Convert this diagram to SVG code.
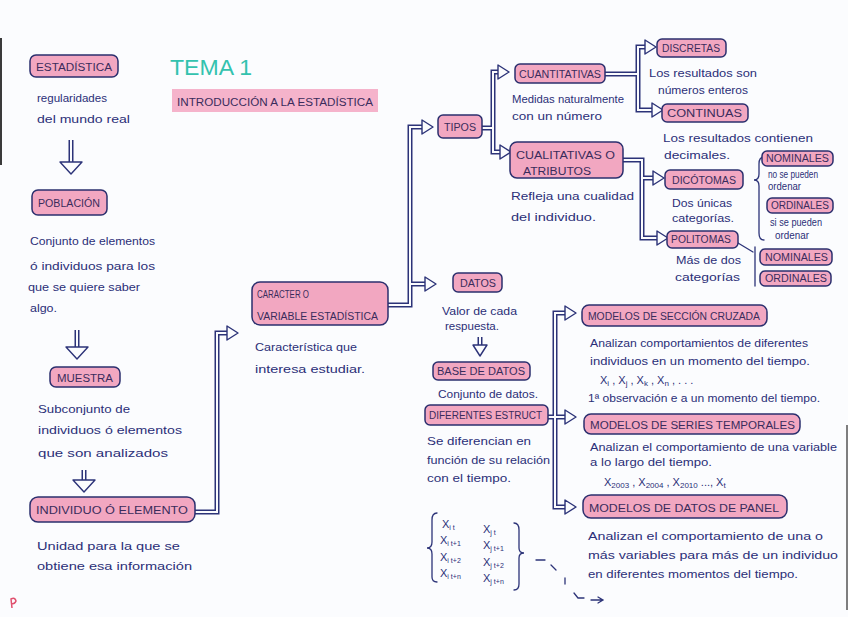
<svg xmlns="http://www.w3.org/2000/svg" width="848" height="617" viewBox="0 0 848 617">
<defs>
<style>
.bg{fill:#fbfcfe}
.nd{fill:#f2a7c1;stroke:#2b2f6e;stroke-width:1.5}
.lb{font-family:"Liberation Sans",Arial,sans-serif;font-size:10px;fill:#3a2c5c}
.hw{font-family:"Liberation Sans",Arial,sans-serif;font-size:11px;fill:#2b2f78}
.co{fill:none;stroke:#2c3378;stroke-width:5;stroke-linejoin:miter}
.ci{fill:none;stroke:#fbfcfe;stroke-width:2}
.ah{fill:#fbfcfe;stroke:#2c3378;stroke-width:1.4;stroke-linejoin:round}
.br{fill:none;stroke:#2c3378;stroke-width:1.3;stroke-linecap:round}
</style>
<path id="hr" d="M-11,-7 L0,0 L-11,7 Z"/>
<path id="hd" d="M-11,0 L11,0 L0,12 Z"/>
</defs>
<rect class="bg" x="0" y="0" width="848" height="617"/>
<line x1="1" y1="38" x2="1" y2="165" stroke="#3a3a3a" stroke-width="2"/>
<line x1="847" y1="425" x2="847" y2="610" stroke="#555" stroke-width="1.5"/>
<path d="M12,608 L11,599 Q15,597 16,601 Q15,604 11,604" fill="none" stroke="#e0506e" stroke-width="1.5"/>

<g id="title">
<text x="170" y="75" font-family="Liberation Sans,Arial,sans-serif" font-size="22" fill="#33c2ae" textLength="82" lengthAdjust="spacingAndGlyphs">TEMA 1</text>
<rect x="172" y="89" width="206" height="23" fill="#f5b3cb"/>
<text x="177" y="106" class="lb" font-size="9" fill="#2a2430" textLength="196" lengthAdjust="spacingAndGlyphs">INTRODUCCIÓN A LA ESTADÍSTICA</text>
</g>

<g id="connectors">
<path class="co" d="M195,512 H217 V333 H228"/><path class="ci" d="M195,512 H217 V333 H228"/>
<use href="#hr" class="ah" x="238" y="333"/>
<path class="co" d="M388,305 H410 V127 H423 M410,284 H426"/><path class="ci" d="M388,305 H410 V127 H423 M410,284 H426"/>
<use href="#hr" class="ah" x="433" y="127"/><use href="#hr" class="ah" x="436" y="284"/>
<path class="co" d="M482,128 H493 V72 H499 M493,128 V152 H501"/><path class="ci" d="M482,128 H493 V72 H499 M493,128 V152 H501"/>
<use href="#hr" class="ah" x="509" y="72"/><use href="#hr" class="ah" x="511" y="152"/>
<path class="co" d="M605,74 H638 V47 H646 M638,74 V110 H653"/><path class="ci" d="M605,74 H638 V47 H646 M638,74 V110 H653"/>
<use href="#hr" class="ah" x="656" y="47"/><use href="#hr" class="ah" x="663" y="110"/>
<path class="co" d="M623,160 H642 V238 H658 M642,178 H654"/><path class="ci" d="M623,160 H642 V238 H658 M642,178 H654"/>
<use href="#hr" class="ah" x="664" y="178"/><use href="#hr" class="ah" x="668" y="238"/>
<path class="co" d="M548,417 H555 V313 H566 M555,417 H566 M555,417 V507 H566"/><path class="ci" d="M548,417 H555 V313 H566 M555,417 H566 M555,417 V507 H566"/>
<use href="#hr" class="ah" x="576" y="313"/><use href="#hr" class="ah" x="576" y="417"/><use href="#hr" class="ah" x="576" y="507"/>
<path class="co" d="M71,140 V163 M77,330 V348 M84,470 V481 M480,337 V346"/><path class="ci" d="M71,140 V163 M77,330 V348 M84,470 V481 M480,337 V346"/>
<use href="#hd" class="ah" x="71" y="162"/><use href="#hd" class="ah" x="77" y="347"/><use href="#hd" class="ah" x="84" y="480"/>
<path class="ah" d="M473,345 L487,345 L480,356 Z"/>
<path class="br" d="M764,157 Q759,157 759,164 V174 Q759,180 754,180 Q759,180 759,186 V233 Q759,240 764,240"/>
<path class="br" d="M738,243 L753,252 M755,247 V286"/>
<path class="br" d="M437,513 Q432,513 432,520 V542 Q432,548 427,548 Q432,548 432,554 V577 Q432,582 437,582"/>
<path class="br" d="M514,523 Q519,523 519,530 V548 Q519,553 524,553 Q519,553 519,558 V584 Q519,590 514,590"/>
<path class="br" d="M536,560 H545 M551,565 L556,570 M565,578 V584 M574,593 L578,598 H584 M591,600 H602 M598,597 L603,600 L598,603"/>
</g>

<g id="estadistica">
<rect class="nd" x="30" y="55" width="88" height="22" rx="6"/>
<text class="lb" x="36" y="71" font-size="11" textLength="76" lengthAdjust="spacingAndGlyphs">ESTADÍSTICA</text>
<text class="hw" x="37" y="102" textLength="70" lengthAdjust="spacingAndGlyphs">regularidades</text>
<text class="hw" x="37" y="123" textLength="93" lengthAdjust="spacingAndGlyphs">del mundo real</text>
</g>
<g id="poblacion">
<rect class="nd" x="32" y="190" width="75" height="25" rx="6"/>
<text class="lb" x="38" y="207" font-size="11" textLength="62" lengthAdjust="spacingAndGlyphs">POBLACIÓN</text>
<text class="hw" x="30" y="245" textLength="125" lengthAdjust="spacingAndGlyphs">Conjunto de elementos</text>
<text class="hw" x="30" y="270" textLength="125" lengthAdjust="spacingAndGlyphs">ó individuos para los</text>
<text class="hw" x="28" y="291" textLength="112" lengthAdjust="spacingAndGlyphs">que se quiere saber</text>
<text class="hw" x="30" y="312" textLength="27" lengthAdjust="spacingAndGlyphs">algo.</text>
</g>
<g id="muestra">
<rect class="nd" x="50" y="367" width="70" height="20" rx="6"/>
<text class="lb" x="57" y="382" textLength="56" lengthAdjust="spacingAndGlyphs">MUESTRA</text>
<text class="hw" x="38" y="413" textLength="92" lengthAdjust="spacingAndGlyphs">Subconjunto de</text>
<text class="hw" x="38" y="434" textLength="144" lengthAdjust="spacingAndGlyphs">individuos ó elementos</text>
<text class="hw" x="38" y="457" textLength="130" lengthAdjust="spacingAndGlyphs">que son analizados</text>
</g>
<g id="individuo">
<rect class="nd" x="30" y="497" width="165" height="25" rx="8"/>
<text class="lb" x="36" y="514" font-size="11" textLength="152" lengthAdjust="spacingAndGlyphs">INDIVIDUO Ó ELEMENTO</text>
<text class="hw" x="37" y="550" textLength="143" lengthAdjust="spacingAndGlyphs">Unidad para la que se</text>
<text class="hw" x="37" y="570" textLength="155" lengthAdjust="spacingAndGlyphs">obtiene esa información</text>
</g>
<g id="caracter">
<rect class="nd" x="252" y="282" width="136" height="43" rx="8"/>
<text class="lb" x="257" y="298" textLength="52" lengthAdjust="spacingAndGlyphs">CARACTER O</text>
<text class="lb" x="257" y="320" textLength="121" lengthAdjust="spacingAndGlyphs">VARIABLE ESTADÍSTICA</text>
<text class="hw" x="255" y="351" textLength="102" lengthAdjust="spacingAndGlyphs">Característica que</text>
<text class="hw" x="255" y="373" textLength="110" lengthAdjust="spacingAndGlyphs">interesa estudiar.</text>
</g>
<g id="tipos">
<rect class="nd" x="438" y="115" width="44" height="23" rx="5"/>
<text class="lb" x="444" y="131" textLength="32" lengthAdjust="spacingAndGlyphs">TIPOS</text>
</g>
<g id="cuantitativas">
<rect class="nd" x="515" y="64" width="90" height="19" rx="5"/>
<text class="lb" x="519" y="78" textLength="82" lengthAdjust="spacingAndGlyphs">CUANTITATIVAS</text>
<text class="hw" x="512" y="103" textLength="112" lengthAdjust="spacingAndGlyphs">Medidas naturalmente</text>
<text class="hw" x="512" y="120" textLength="90" lengthAdjust="spacingAndGlyphs">con un número</text>
</g>
<g id="cualitativas">
<rect class="nd" x="510" y="142" width="113" height="36" rx="7"/>
<text class="lb" x="516" y="159" textLength="99" lengthAdjust="spacingAndGlyphs">CUALITATIVAS O</text>
<text class="lb" x="523" y="175" textLength="68" lengthAdjust="spacingAndGlyphs">ATRIBUTOS</text>
<text class="hw" x="511" y="200" textLength="123" lengthAdjust="spacingAndGlyphs">Refleja una cualidad</text>
<text class="hw" x="511" y="221" textLength="85" lengthAdjust="spacingAndGlyphs">del individuo.</text>
</g>
<g id="discretas">
<rect class="nd" x="657" y="39" width="69" height="18" rx="5"/>
<text class="lb" x="662" y="52" textLength="58" lengthAdjust="spacingAndGlyphs">DISCRETAS</text>
<text class="hw" x="649" y="77" textLength="108" lengthAdjust="spacingAndGlyphs">Los resultados son</text>
<text class="hw" x="658" y="94" textLength="90" lengthAdjust="spacingAndGlyphs">números enteros</text>
</g>
<g id="continuas">
<rect class="nd" x="662" y="104" width="86" height="18" rx="5"/>
<text class="lb" x="667" y="117" textLength="75" lengthAdjust="spacingAndGlyphs">CONTINUAS</text>
<text class="hw" x="663" y="142" textLength="150" lengthAdjust="spacingAndGlyphs">Los resultados contienen</text>
<text class="hw" x="664" y="159" textLength="66" lengthAdjust="spacingAndGlyphs">decimales.</text>
</g>
<g id="dicotomas">
<rect class="nd" x="665" y="170" width="78" height="19" rx="5"/>
<text class="lb" x="672" y="184" textLength="64" lengthAdjust="spacingAndGlyphs">DICÓTOMAS</text>
<text class="hw" x="672" y="207" textLength="60" lengthAdjust="spacingAndGlyphs">Dos únicas</text>
<text class="hw" x="672" y="222" textLength="62" lengthAdjust="spacingAndGlyphs">categorías.</text>
</g>
<g id="politomas">
<rect class="nd" x="667" y="231" width="71" height="17" rx="5"/>
<text class="lb" x="671" y="243" textLength="60" lengthAdjust="spacingAndGlyphs">POLITOMAS</text>
<text class="hw" x="676" y="264" textLength="65" lengthAdjust="spacingAndGlyphs">Más de dos</text>
<text class="hw" x="675" y="281" textLength="65" lengthAdjust="spacingAndGlyphs">categorías</text>
</g>
<g id="nominales1">
<rect class="nd" x="762" y="151" width="71" height="15" rx="5"/>
<text class="lb" x="766" y="162" font-size="9" textLength="63" lengthAdjust="spacingAndGlyphs">NOMINALES</text>
<text class="hw" x="768" y="178" font-size="9" textLength="50" lengthAdjust="spacingAndGlyphs">no se pueden</text>
<text class="hw" x="768" y="190" font-size="9" textLength="33" lengthAdjust="spacingAndGlyphs">ordenar</text>
</g>
<g id="ordinales1">
<rect class="nd" x="767" y="198" width="66" height="15" rx="5"/>
<text class="lb" x="771" y="209" font-size="9" textLength="58" lengthAdjust="spacingAndGlyphs">ORDINALES</text>
<text class="hw" x="770" y="226" font-size="9" textLength="52" lengthAdjust="spacingAndGlyphs">si se pueden</text>
<text class="hw" x="775" y="239" font-size="9" textLength="34" lengthAdjust="spacingAndGlyphs">ordenar</text>
</g>
<g id="nominales2">
<rect class="nd" x="760" y="249" width="72" height="16" rx="5"/>
<text class="lb" x="765" y="261" font-size="9" textLength="63" lengthAdjust="spacingAndGlyphs">NOMINALES</text>
</g>
<g id="ordinales2">
<rect class="nd" x="760" y="271" width="71" height="15" rx="5"/>
<text class="lb" x="765" y="282" font-size="9" textLength="62" lengthAdjust="spacingAndGlyphs">ORDINALES</text>
</g>
<g id="datos">
<rect class="nd" x="453" y="273" width="49" height="19" rx="5"/>
<text class="lb" x="460" y="287" textLength="36" lengthAdjust="spacingAndGlyphs">DATOS</text>
<text class="hw" x="442" y="315" textLength="75" lengthAdjust="spacingAndGlyphs">Valor de cada</text>
<text class="hw" x="445" y="330" textLength="54" lengthAdjust="spacingAndGlyphs">respuesta.</text>
</g>
<g id="base_datos">
<rect class="nd" x="433" y="362" width="97" height="18" rx="5"/>
<text class="lb" x="437" y="375" textLength="88" lengthAdjust="spacingAndGlyphs">BASE DE DATOS</text>
<text class="hw" x="438" y="398" textLength="100" lengthAdjust="spacingAndGlyphs">Conjunto de datos.</text>
</g>
<g id="diferentes">
<rect class="nd" x="425" y="405" width="123" height="20" rx="5"/>
<text class="lb" x="429" y="419" textLength="113" lengthAdjust="spacingAndGlyphs">DIFERENTES ESTRUCT</text>
<text class="hw" x="427" y="445" textLength="104" lengthAdjust="spacingAndGlyphs">Se diferencian en</text>
<text class="hw" x="427" y="464" textLength="123" lengthAdjust="spacingAndGlyphs">función de su relación</text>
<text class="hw" x="427" y="482" textLength="84" lengthAdjust="spacingAndGlyphs">con el tiempo.</text>
</g>
<g id="matriz" class="hw" font-size="10">
<text x="442" y="528">X<tspan font-size="7" dy="2">i t</tspan></text>
<text x="483" y="533">X<tspan font-size="7" dy="2">j t</tspan></text>
<text x="440" y="544">X<tspan font-size="7" dy="2">i t+1</tspan></text>
<text x="483" y="549">X<tspan font-size="7" dy="2">j t+1</tspan></text>
<text x="440" y="561">X<tspan font-size="7" dy="2">i t+2</tspan></text>
<text x="483" y="566">X<tspan font-size="7" dy="2">j t+2</tspan></text>
<text x="440" y="577">X<tspan font-size="7" dy="2">i t+n</tspan></text>
<text x="483" y="582">X<tspan font-size="7" dy="2">j t+n</tspan></text>
</g>
<g id="seccion_cruzada">
<rect class="nd" x="582" y="305" width="185" height="21" rx="7"/>
<text class="lb" x="588" y="320" textLength="172" lengthAdjust="spacingAndGlyphs">MODELOS DE SECCIÓN CRUZADA</text>
<text class="hw" x="590" y="347" textLength="218" lengthAdjust="spacingAndGlyphs">Analizan comportamientos de diferentes</text>
<text class="hw" x="590" y="365" textLength="220" lengthAdjust="spacingAndGlyphs">individuos en un momento del tiempo.</text>
<text class="hw" x="600" y="384" font-size="12">X<tspan font-size="8" dy="2">i</tspan><tspan dy="-2"> , X</tspan><tspan font-size="8" dy="2">j</tspan><tspan dy="-2"> , X</tspan><tspan font-size="8" dy="2">k</tspan><tspan dy="-2"> , X</tspan><tspan font-size="8" dy="2">n</tspan><tspan dy="-2"> , . . .</tspan></text>
<text class="hw" x="588" y="402" font-size="10" textLength="232" lengthAdjust="spacingAndGlyphs">1ª observación e a un momento del tiempo.</text>
</g>
<g id="series_temporales">
<rect class="nd" x="584" y="414" width="216" height="20" rx="7"/>
<text class="lb" x="590" y="429" textLength="205" lengthAdjust="spacingAndGlyphs">MODELOS DE SERIES TEMPORALES</text>
<text class="hw" x="590" y="451" textLength="247" lengthAdjust="spacingAndGlyphs">Analizan el comportamiento de una variable</text>
<text class="hw" x="590" y="466" textLength="122" lengthAdjust="spacingAndGlyphs">a lo largo del tiempo.</text>
<text class="hw" x="604" y="486" font-size="12">X<tspan font-size="8" dy="2">2003</tspan><tspan dy="-2"> , X</tspan><tspan font-size="8" dy="2">2004</tspan><tspan dy="-2"> , X</tspan><tspan font-size="8" dy="2">2010</tspan><tspan dy="-2"> ..., X</tspan><tspan font-size="8" dy="2">t</tspan></text>
</g>
<g id="datos_panel">
<rect class="nd" x="583" y="495" width="204" height="23" rx="8"/>
<text class="lb" x="589" y="512" textLength="190" lengthAdjust="spacingAndGlyphs">MODELOS DE DATOS DE PANEL</text>
<text class="hw" x="588" y="540" textLength="235" lengthAdjust="spacingAndGlyphs">Analizan el comportamiento de una o</text>
<text class="hw" x="588" y="559" textLength="250" lengthAdjust="spacingAndGlyphs">más variables para más de un individuo</text>
<text class="hw" x="588" y="578" textLength="210" lengthAdjust="spacingAndGlyphs">en diferentes momentos del tiempo.</text>
</g>
</svg>
